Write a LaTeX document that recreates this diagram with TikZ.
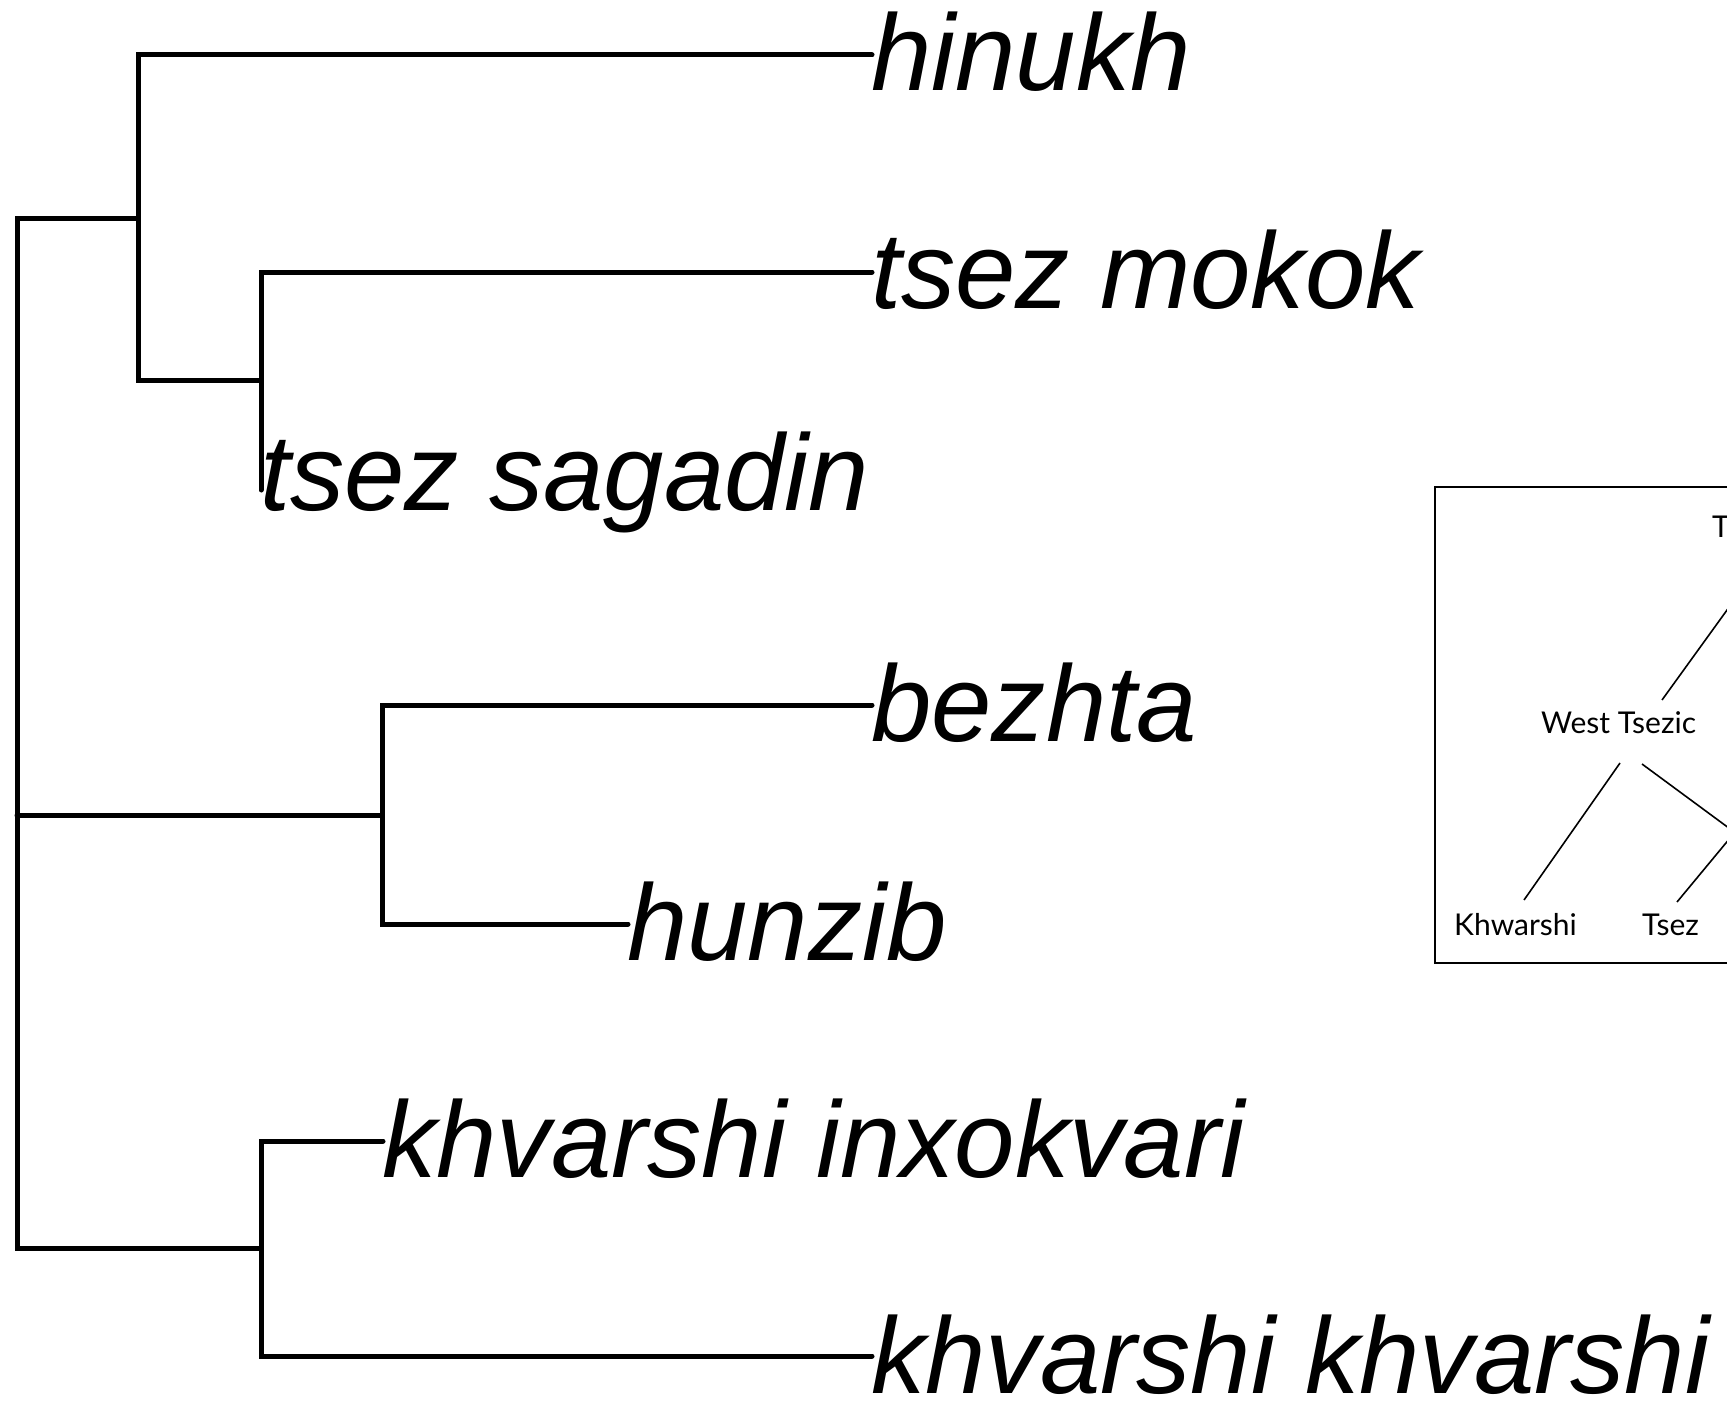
\documentclass[tikz,border=0pt]{standalone}
\usepackage{fontspec}
\newfontfamily\treefont{Liberation Sans}
\newfontfamily\insetfont{Lato}
\begin{document}
\begin{tikzpicture}[x=1pt,y=-1pt,
  branch/.style={line width=5pt,line cap=round},
  lab/.style={anchor=base west,inner sep=0pt,text depth=0pt,font=\treefont\itshape\fontsize{108.5}{112}\selectfont},
  inlab/.style={anchor=base west,inner sep=0pt,font=\insetfont\fontsize{30}{34}\selectfont},
  inline/.style={line width=1.6pt},
  inbox/.style={line width=2pt}]
\useasboundingbox (0,0) rectangle (1727,1402);
\clip (0,0) rectangle (1727,1402);
% tree internal nodes
\coordinate (R) at (17,815);
\coordinate (A) at (138,218);
\coordinate (B) at (261,380);
\coordinate (C) at (382,815);
\coordinate (D) at (261,1248);
% leaves
\coordinate (L1) at (872,55);
\coordinate (L2) at (872,272);
\coordinate (L3) at (261,490);
\coordinate (L4) at (872,705);
\coordinate (L5) at (628,924);
\coordinate (L6) at (383,1141);
\coordinate (L7) at (872,1356);
% branches
\draw[branch] (R) |- (A);
\draw[branch] (R) -- (C);
\draw[branch] (R) |- (D);
\draw[branch] (A) |- (L1);
\draw[branch] (A) |- (B);
\draw[branch] (B) |- (L2);
\draw[branch] (B) -- (L3);
\draw[branch] (C) |- (L4);
\draw[branch] (C) |- (L5);
\draw[branch] (D) |- (L6);
\draw[branch] (D) |- (L7);
% labels
\node[lab] (n1) at ([shift={(-1,36)}]L1) {hinukh};
\node[lab] (n2) at ([shift={(-1,36)}]L2) {tsez mokok};
\node[lab] (n3) at ([shift={(-1,20)}]L3) {tsez sagadin};
\node[lab] (n4) at ([shift={(-1,36)}]L4) {bezhta};
\node[lab] (n5) at ([shift={(-1,36)}]L5) {hunzib};
\node[lab] (n6) at ([shift={(-1,36)}]L6) {khvarshi inxokvari};
\node[lab] (n7) at ([shift={(-1,37)}]L7) {khvarshi khvarshi};
% inset
\draw[inbox] (1435,487) rectangle (1800,963);
\node[inlab] (ts) at (1712,537) {T};
\node[inlab] (wt) at (1541,733) {West Tsezic};
\node[inlab] (kh) at (1454,935) {Khwarshi};
\node[inlab] (tz) at (1642,935) {Tsez};
\coordinate (th) at (1745,840);
\coordinate (tsA) at (1774,545);
\coordinate (wtA) at (1662,700);
\coordinate (wtB) at (1620,763);
\coordinate (wtC) at (1642,764);
\coordinate (khA) at (1524,900);
\coordinate (thA) at (1760,851);
\coordinate (thB) at (1740,826);
\coordinate (tzA) at (1677,902);
\draw[inline] (wtA) -- (tsA);
\draw[inline] (wtB) -- (khA);
\draw[inline] (wtC) -- (thA);
\draw[inline] (thB) -- (tzA);
\end{tikzpicture}
\end{document}
